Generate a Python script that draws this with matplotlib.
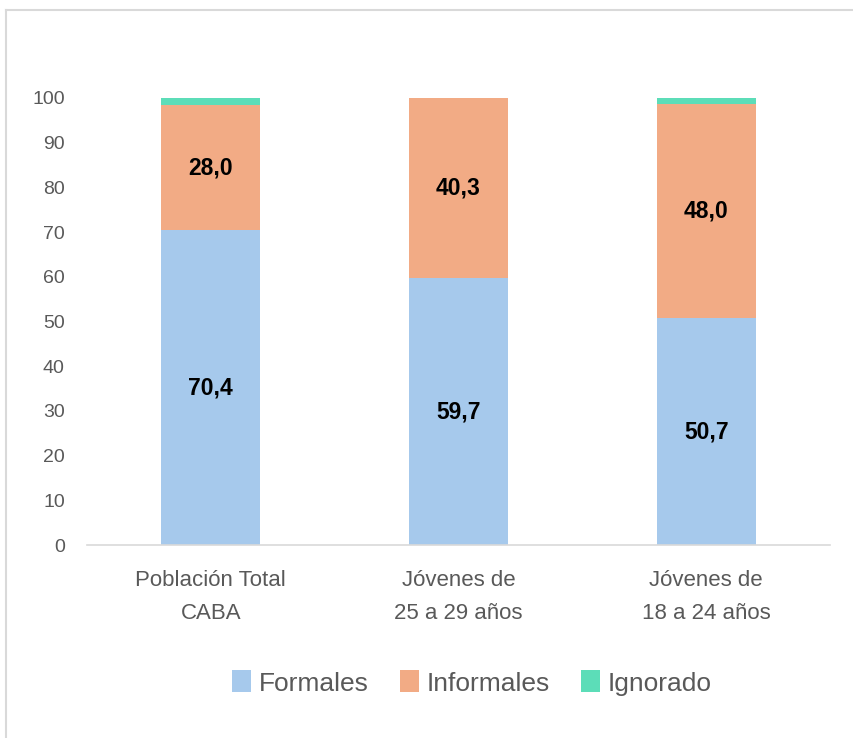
import matplotlib
matplotlib.use("Agg")
import matplotlib.pyplot as plt

categories = ["Población Total\nCABA", "Jóvenes de\n25 a 29 años", "Jóvenes de\n18 a 24 años"]
formales = [70.4, 59.7, 50.7]
informales = [28.0, 40.3, 48.0]
ignorado = [1.6, 0.0, 1.3]
series_names = ["Formales", "Informales", "Ignorado"]
colors = ["#A6C9EC", "#F2AB85", "#5CDDB8"]
yticks = [0, 10, 20, 30, 40, 50, 60, 70, 80, 90, 100]

plt.rcParams['font.family'] = ['Liberation Sans', 'DejaVu Sans']

fig = plt.figure(figsize=(8.54, 7.38), dpi=100)
ax = fig.add_axes([87/854, 1-545/738, (830-87)/854, (545-98)/738])

x = list(range(len(categories)))
w = 0.4
b1 = ax.bar(x, formales, w, color=colors[0], label=series_names[0])
b2 = ax.bar(x, informales, w, bottom=formales, color=colors[1], label=series_names[1])
bottom3 = [f + i for f, i in zip(formales, informales)]
b3 = ax.bar(x, ignorado, w, bottom=bottom3, color=colors[2], label=series_names[2])

for i in x:
    ax.text(i, formales[i] / 2, f"{formales[i]:.1f}".replace(".", ","), ha="center", va="center",
            fontsize=16.5, fontweight="bold", color="black")
    ax.text(i, formales[i] + informales[i] / 2, f"{informales[i]:.1f}".replace(".", ","), ha="center",
            va="center", fontsize=16.5, fontweight="bold", color="black")

ax.set_xlim(-0.5, 2.5)
ax.set_ylim(0, 100)
ax.set_yticks(yticks)
ax.set_yticklabels([str(t) for t in yticks], fontsize=14, color="#595959")
ax.set_xticks(x)
ax.set_xticklabels(categories, fontsize=16, color="#595959", linespacing=1.75)
ax.tick_params(axis="both", length=0)
ax.tick_params(axis="y", pad=16)
ax.tick_params(axis="x", pad=18)
for s in ["top", "right", "left"]:
    ax.spines[s].set_visible(False)
ax.spines["bottom"].set_color("#D9D9D9")
ax.spines["bottom"].set_linewidth(1.2)

leg = fig.legend(handles=[b1, b2, b3], labels=series_names, loc="center", bbox_to_anchor=(472/854, 1-683/738),
                 ncol=3, frameon=False, fontsize=19, handlelength=0.7, handleheight=0.9,
                 handletextpad=0.3, columnspacing=1.2)
for t in leg.get_texts():
    t.set_color("#595959")

# chart border (top & left visible)
fig.add_artist(plt.Line2D([6/854, 6/854], [0, 1-10/738], transform=fig.transFigure, color="#D9D9D9", lw=1.5))
fig.add_artist(plt.Line2D([6/854, 1], [1-10/738, 1-10/738], transform=fig.transFigure, color="#D9D9D9", lw=1.5))

fig.savefig("out.png", dpi=100)
